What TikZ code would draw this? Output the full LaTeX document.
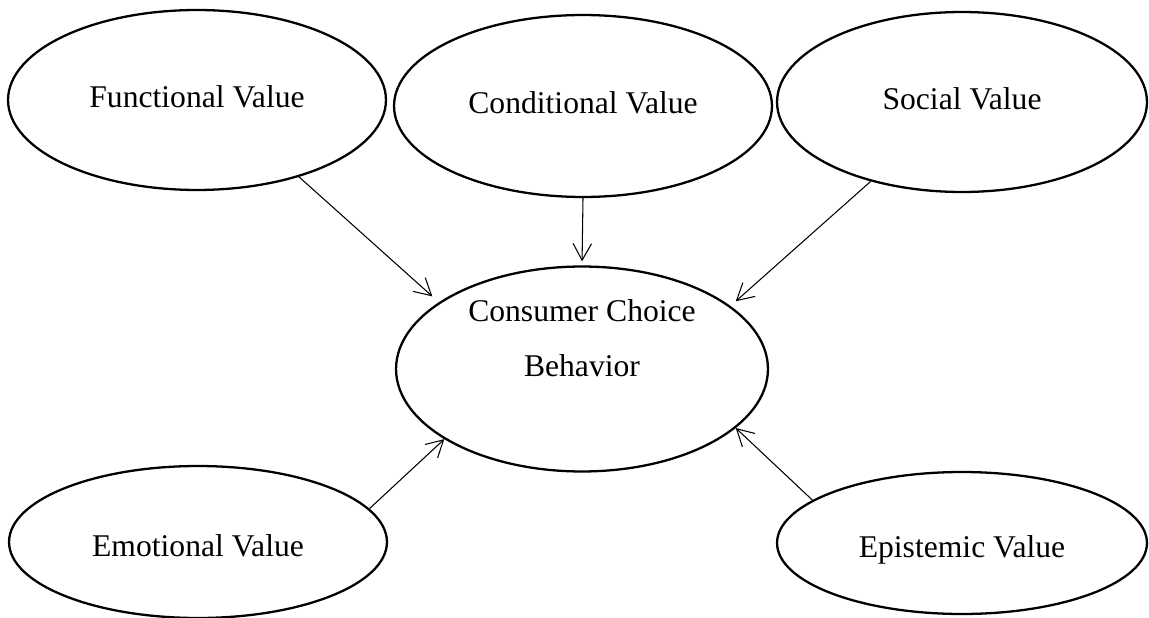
\documentclass[tikz,border=0pt]{standalone}
\usepackage{fontspec}
\setmainfont{Liberation Serif}
\usetikzlibrary{shapes.geometric,arrows.meta}
\tikzset{
	val/.style={draw,ellipse,line width=1.3pt,inner sep=0pt,align=center,
		font=\fontsize{18}{31.3}\selectfont,text height=12.6pt,text depth=3.6pt},
	low/.style={text height=19.8pt},
	arr/.style={line width=.6pt,-{Straight Barb[length=9.5pt,width=10.5pt]}}
}
\begin{document}
\begin{tikzpicture}[x=.02cm,y=-.02cm]
	\useasboundingbox (0,0) rectangle (1149,618);
	\node[val,minimum width=7.56cm,minimum height=3.6cm] (func) at (197,100) {Functional Value};
	\node[val,minimum width=7.56cm,minimum height=3.64cm] (cond) at (583,106) {Conditional Value};
	\node[val,minimum width=7.4cm,minimum height=3.6cm] (soc) at (962,102) {Social Value};
	\node[val,minimum width=7.44cm,minimum height=4.1cm] (cons) at (582,369) {Consumer Choice\\Behavior};
	\node[val,low,minimum width=7.56cm,minimum height=3.04cm] (emo) at (198,542) {Emotional Value};
	\node[val,low,minimum width=7.4cm,minimum height=2.84cm] (epi) at (962,543) {Epistemic Value};
	%mũi tên
	\draw[arr,shorten >=5pt] (func.-37) -- (cons.155);
	\draw[arr,shorten >=2.3pt] (cond.south) -- (cons.north);
	\draw[arr,shorten >=4pt] (soc.-139) -- (cons.23);
	\draw[arr] (emo.11) -- (cons.-153);
	\draw[arr] (epi.164) -- (cons.-21.5);
\end{tikzpicture}
\end{document}
